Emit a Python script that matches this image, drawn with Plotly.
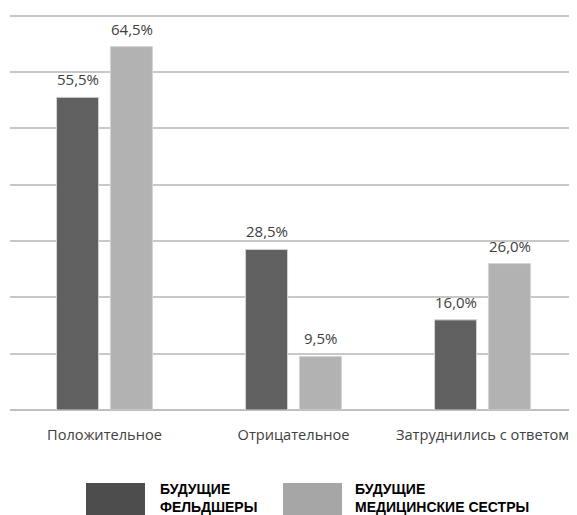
import plotly.graph_objects as go

categories = ["Положительное", "Отрицательное", "Затруднились с ответом"]
feldshery = [55.5, 28.5, 16.0]
sestry = [64.5, 9.5, 26.0]
series_names = ["БУДУЩИЕ<br>ФЕЛЬДШЕРЫ", "БУДУЩИЕ<br>МЕДИЦИНСКИЕ СЕСТРЫ"]

bar_colors = ["#606060", "#b2b2b2"]
legend_colors = ["#4d4d4d", "#a6a6a6"]

def fmt(v):
    return f"{v:.1f}%".replace(".", ",")

# page has an ~8px body margin; work in page pixels
OFF = 8
W, H = 577 - OFF, 515 - OFF
y_max = 71
plot_left, plot_bottom = 10, 410
unit = (410 - 16) / 70.0
plot_top = plot_bottom - y_max * unit
ml = plot_left - OFF
mt = max(plot_top - OFF, 0)
mr = 0
mb = H - (plot_bottom - OFF)
pw, ph = W - ml - mr, H - mt - mb

def px_x(p):
    return (p - plot_left) / pw

def px_y(p):
    return (plot_bottom - p) / ph

fig = go.Figure()
for vals, col in zip([feldshery, sestry], bar_colors):
    fig.add_trace(go.Bar(
        x=categories, y=vals,
        marker=dict(color=col, line=dict(color="#d4d4d4", width=1)),
        showlegend=False, hoverinfo="skip",
    ))

annotations = []
for vals, shift in zip([feldshery, sestry], [-27, 27]):
    for c, v in zip(categories, vals):
        annotations.append(dict(x=c, y=v, xref="x", yref="y", text=fmt(v),
                                showarrow=False, xanchor="center", yanchor="bottom",
                                xshift=shift, yshift=6,
                                font=dict(family="Open Sans", size=15, color="#404040")))

shapes = []
sw_x = [86, 283]
tx_x = [158, 353]
for i in range(2):
    shapes.append(dict(type="rect", xref="paper", yref="paper",
                       x0=px_x(sw_x[i]), x1=px_x(sw_x[i] + 59),
                       y0=px_y(483), y1=px_y(530),
                       fillcolor=legend_colors[i], line=dict(width=0)))
    annotations.append(dict(xref="paper", yref="paper", x=px_x(tx_x[i]), y=px_y(479),
                            xanchor="left", yanchor="top", align="left",
                            text="<b>" + series_names[i] + "</b>", showarrow=False,
                            font=dict(family="Liberation Sans", size=14, color="#000000")))

fig.update_layout(
    width=W, height=H,
    margin=dict(l=ml, r=mr, t=mt, b=mb, autoexpand=False),
    paper_bgcolor="white", plot_bgcolor="white",
    barmode="group", bargap=0.43, bargroupgap=0.22,
    shapes=shapes, annotations=annotations,
    font=dict(family="Open Sans", size=15, color="#404040"),
)
fig.update_yaxes(range=[0, y_max], dtick=10, showgrid=True, gridcolor="#c8c8c8", gridwidth=1.5,
                 showticklabels=False, zeroline=True, zerolinecolor="#bfbfbf", zerolinewidth=1.5,
                 fixedrange=True)
fig.update_xaxes(range=[-0.5, 2.5], showgrid=False, ticks="", ticklabelstandoff=14,
                 tickfont=dict(family="Open Sans", size=14.6, color="#404040"))

fig.write_html("out.html")
